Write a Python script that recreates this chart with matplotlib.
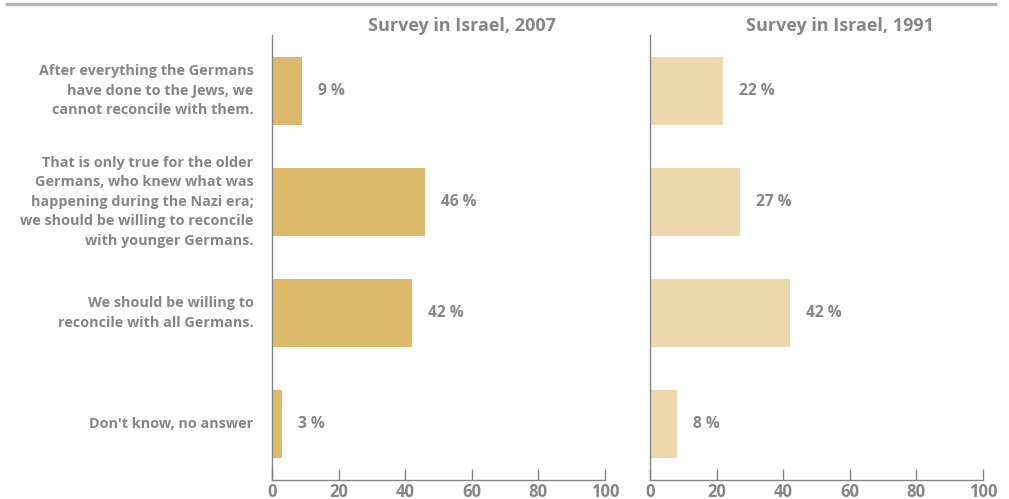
import matplotlib.pyplot as plt
from matplotlib.lines import Line2D

answers = [
    "After everything the Germans\nhave done to the Jews, we\ncannot reconcile with them.",
    "That is only true for the older\nGermans, who knew what was\nhappening during the Nazi era;\nwe should be willing to reconcile\nwith younger Germans.",
    "We should be willing to\nreconcile with all Germans.",
    "Don't know, no answer",
]
share_2007 = [9, 46, 42, 3]
share_1991 = [22, 27, 42, 8]
titles = ["Survey in Israel, 2007", "Survey in Israel, 1991"]
ticks = [0, 20, 40, 60, 80, 100]

gray = "#858585"
plt.rcParams["font.family"] = ["Open Sans", "DejaVu Sans"]

fig = plt.figure(figsize=(10.09, 4.99), dpi=100)
fig.add_artist(Line2D([7 / 1009, 995 / 1009], [1 - 4 / 499] * 2,
                      color="#b5b5b5", lw=2.5, transform=fig.transFigure))

panels = [(272, share_2007, "#dcb96b", titles[0]),
          (650, share_1991, "#edd8ab", titles[1])]
for left, values, color, title in panels:
    ax = fig.add_axes([left / 1009, 1 - 480 / 499, 333 / 1009, 445 / 499])
    pos = range(len(values))
    ax.barh(pos, values, height=0.61, color=color)
    for y, v in zip(pos, values):
        ax.text(v + 4.8, y, f"{v} %", va="center", ha="left",
                fontsize=11.2, fontweight="bold", color=gray)
    ax.set_xlim(0, 100)
    ax.set_ylim(3.5, -0.5)
    ax.set_xticks(ticks)
    ax.set_yticks([])
    ax.tick_params(axis="x", direction="in", length=8, width=1, color=gray,
                   labelsize=12, labelcolor=gray, pad=2)
    for lbl in ax.get_xticklabels():
        lbl.set_fontweight("bold")
    for side in ("top", "right"):
        ax.spines[side].set_visible(False)
    for side in ("left", "bottom"):
        ax.spines[side].set_color(gray)
        ax.spines[side].set_linewidth(1)
    fig.text((left + 190) / 1009, 1 - 26 / 499, title, ha="center", va="center",
             fontsize=13, fontweight="bold", color=gray)
    if left == 272:
        for y, txt in zip(pos, answers):
            ax.text(-5.5, y, txt, ha="right", va="center", fontsize=10.4,
                    fontweight="bold", color=gray, linespacing=1.5)

fig.savefig("out.png", dpi=100)
